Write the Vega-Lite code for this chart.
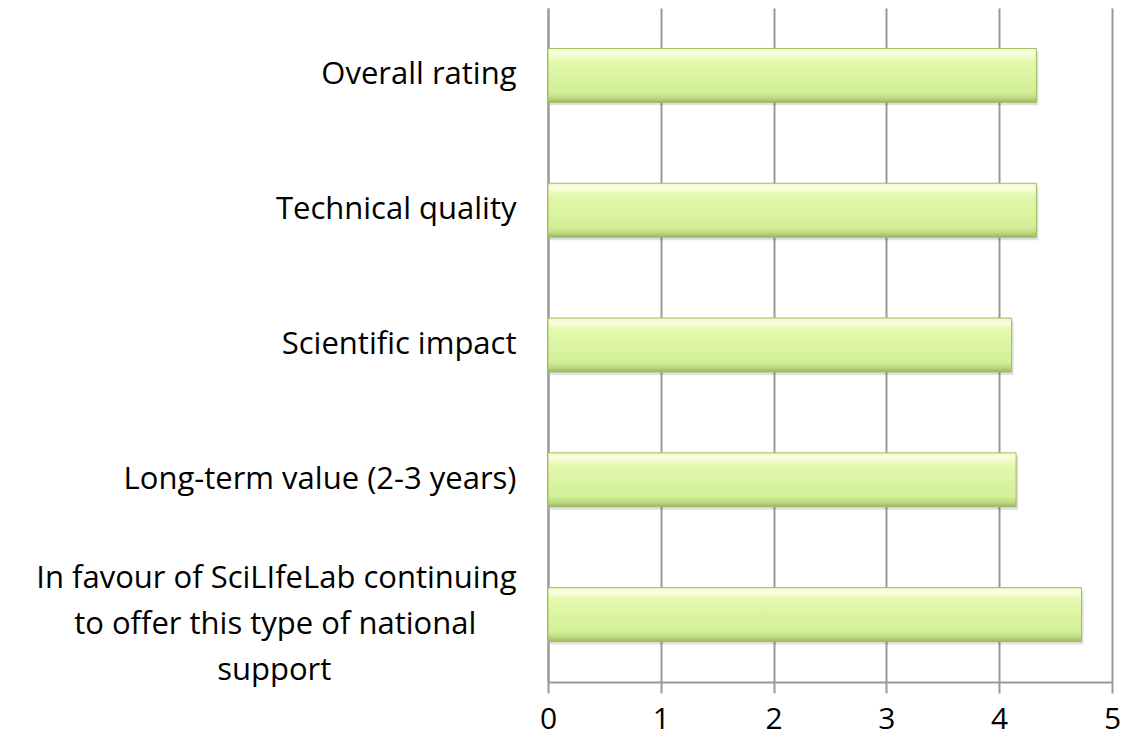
{
  "$schema": "https://vega.github.io/schema/vega-lite/v6.json",
  "width": 564,
  "height": 674,
  "autosize": {"type": "none"},
  "padding": {"left": 548, "top": 8, "right": 12, "bottom": 63},
  "background": "white",
  "data": {
    "values": [
      {"item": "Overall rating", "score": 4.33},
      {"item": "Technical quality", "score": 4.33},
      {"item": "Scientific impact", "score": 4.11},
      {"item": "Long-term value (2-3 years)", "score": 4.15},
      {"item": "In favour of SciLIfeLab continuing to offer this type of national support", "score": 4.73}
    ]
  },
  "config": {
    "view": {"stroke": null},
    "font": "Open Sans",
    "axis": {"labelFont": "Open Sans", "labelColor": "#000000"}
  },
  "encoding": {
    "y": {
      "field": "item",
      "type": "nominal",
      "sort": null,
      "scale": {"paddingInner": 0.6, "paddingOuter": 0.3},
      "axis": {
        "title": null,
        "ticks": false,
        "tickSize": 0,
        "labelPadding": 32,
        "labelFontSize": 31,
        "labelLimit": 700,
        "labelAlign": "right",
        "labelBaseline": "middle",
        "labelLineHeight": 46,
        "labelOffset": {"condition": {"test": "indexof(datum.value, 'In favour') == 0", "value": -36}, "value": 0},
        "labelExpr": "indexof(datum.label, 'In favour') == 0 ? ['In favour of SciLIfeLab continuing', 'to offer this type of national\u00a0\u00a0\u00a0\u00a0\u00a0\u2060', 'support\u00a0\u00a0\u00a0\u00a0\u00a0\u00a0\u00a0\u00a0\u00a0\u00a0\u00a0\u00a0\u00a0\u00a0\u00a0\u00a0\u00a0\u00a0\u00a0\u00a0\u00a0\u00a0\u00a0\u2060'] : datum.label",
        "domain": true,
        "domainColor": "#999999",
        "domainWidth": 2,
        "grid": false
      }
    },
    "x": {
      "field": "score",
      "type": "quantitative",
      "scale": {"domain": [0, 5], "nice": false},
      "axis": {
        "title": null,
        "values": [0, 1, 2, 3, 4, 5],
        "format": "d",
        "labelFontSize": 30,
        "labelPadding": 11,
        "tickSize": 11,
        "tickWidth": 2,
        "tickColor": "#999999",
        "domainColor": "#999999",
        "domainWidth": 2,
        "grid": true,
        "gridColor": "#999999",
        "gridWidth": 2,
        "labelFlush": false
      }
    }
  },
  "layer": [
    {
      "mark": {"type": "bar", "color": "#000000", "opacity": 0.12, "yOffset": 3, "xOffset": 2},
      "encoding": {}
    },
    {
      "mark": {
        "type": "bar",
        "stroke": "#9fbb62",
        "strokeWidth": 1,
        "color": {
          "gradient": "linear",
          "x1": 0, "y1": 0, "x2": 0, "y2": 1,
          "stops": [
            {"offset": 0, "color": "#eef9c4"},
            {"offset": 0.08, "color": "#fbffe2"},
            {"offset": 0.22, "color": "#e4f9ae"},
            {"offset": 0.82, "color": "#d2ef96"},
            {"offset": 0.92, "color": "#bcd880"},
            {"offset": 1, "color": "#9ab75e"}
          ]
        }
      },
      "encoding": {}
    }
  ]
}
